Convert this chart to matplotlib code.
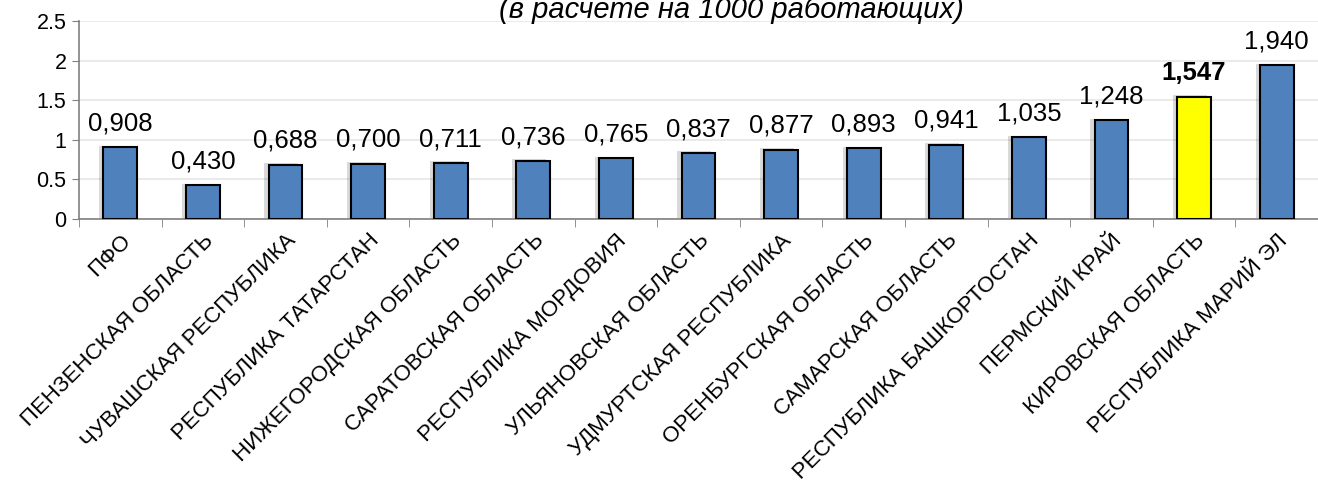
import matplotlib
matplotlib.use("Agg")
import matplotlib.pyplot as plt
import matplotlib.patheffects as pe
from matplotlib.ticker import FuncFormatter, FixedLocator
import numpy as np

categories = ["ПФО", "ПЕНЗЕНСКАЯ ОБЛАСТЬ", "ЧУВАШСКАЯ РЕСПУБЛИКА", "РЕСПУБЛИКА ТАТАРСТАН",
              "НИЖЕГОРОДСКАЯ ОБЛАСТЬ", "САРАТОВСКАЯ ОБЛАСТЬ", "РЕСПУБЛИКА МОРДОВИЯ",
              "УЛЬЯНОВСКАЯ ОБЛАСТЬ", "УДМУРТСКАЯ РЕСПУБЛИКА", "ОРЕНБУРГСКАЯ ОБЛАСТЬ",
              "САМАРСКАЯ ОБЛАСТЬ", "РЕСПУБЛИКА БАШКОРТОСТАН", "ПЕРМСКИЙ КРАЙ",
              "КИРОВСКАЯ ОБЛАСТЬ", "РЕСПУБЛИКА МАРИЙ ЭЛ"]
values = [0.908, 0.430, 0.688, 0.700, 0.711, 0.736, 0.765, 0.837, 0.877, 0.893,
          0.941, 1.035, 1.248, 1.547, 1.940]
highlight = "КИРОВСКАЯ ОБЛАСТЬ"
title = "(в расчете на 1000 работающих)"
yticks = [0, 0.5, 1, 1.5, 2, 2.5]

plt.rcParams['font.family'] = ['Liberation Sans', 'DejaVu Sans']

fig = plt.figure(figsize=(13.18, 4.91), dpi=100)
ax = fig.add_axes([0.06, 0.554, 0.94, 0.403])

x = np.arange(len(categories))
colors = ["#FFFF00" if c == highlight else "#4F81BD" for c in categories]
bars = ax.bar(x, values, width=0.41, color=colors, edgecolor="black", linewidth=1.5, zorder=3)
for b in bars:
    b.set_path_effects([pe.SimplePatchShadow(offset=(-3, 1), alpha=0.15, shadow_rgbFace="#000000"), pe.Normal()])

for xi, v, c in zip(x, values, categories):
    lab = f"{v:.3f}".replace(".", ",")
    ax.annotate(lab, (xi, v), xytext=(0, 12), textcoords="offset points",
                ha="center", va="baseline", fontsize=18.5,
                fontweight="bold" if c == highlight else "normal", zorder=4)

ax.set_xlim(-0.5, len(categories) - 0.5)
ax.set_ylim(0, 2.5)
ax.set_yticks(yticks)
ax.yaxis.set_major_formatter(FuncFormatter(lambda v, p: f"{v:g}"))
ax.tick_params(axis="y", labelsize=15.5, length=5, color="#808080", pad=4)
ax.grid(axis="y", color="#e6e6e6", linewidth=1.2, zorder=0)

ax.set_xticks(x)
ax.set_xticklabels(categories, rotation=45, ha="right", rotation_mode="anchor", fontsize=16)
ax.tick_params(axis="x", which="major", length=0, pad=8)
ax.xaxis.set_minor_locator(FixedLocator(np.arange(-0.5, len(categories), 1.0)))
ax.tick_params(axis="x", which="minor", length=6, color="#808080", direction="out")

for s in ["top", "right"]:
    ax.spines[s].set_visible(False)
ax.spines["left"].set_color("#808080")
ax.spines["bottom"].set_color("#808080")
ax.spines["left"].set_linewidth(1.2)
ax.spines["bottom"].set_linewidth(1.2)

fig.text(0.555, 0.963, title, ha="center", va="baseline", fontsize=21, style="italic")

fig.savefig("out.png", dpi=100)
